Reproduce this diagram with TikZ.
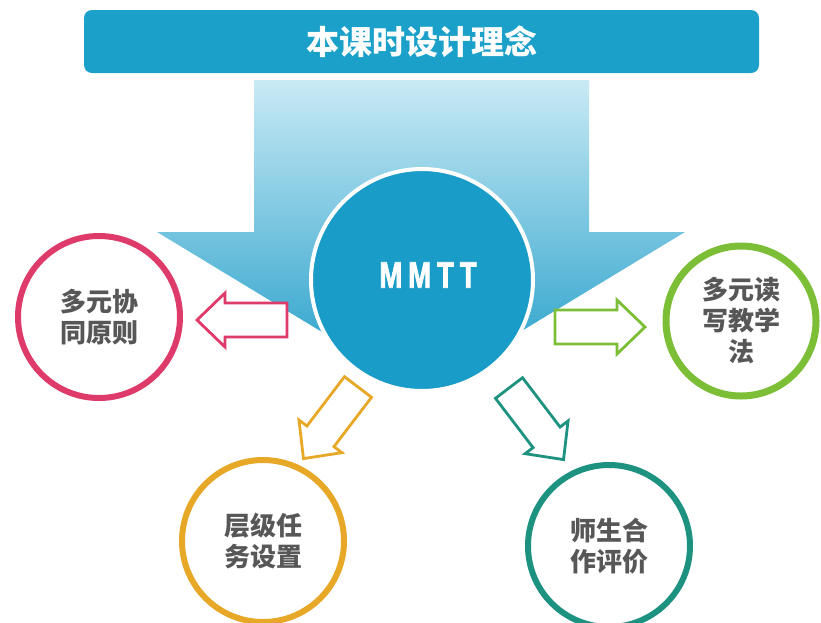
\documentclass[tikz,border=0pt]{standalone}
\usepackage{fontspec}
\newfontfamily\cjk{Noto Sans CJK SC}
\newfontfamily\latin{Liberation Sans}[BoldFeatures={FakeBold=2.5}]
\usetikzlibrary{shapes.geometric}

\definecolor{barblue}{HTML}{1AA0C9}
\definecolor{coreblue}{HTML}{1A9CC8}
\definecolor{arrowtop}{HTML}{C9EAF5}
\definecolor{arrowmid}{HTML}{3FABD5}
\definecolor{arrowbot}{HTML}{1C9BC7}
\definecolor{pinkc}{HTML}{DE3A6A}
\definecolor{greenc}{HTML}{7CBE36}
\definecolor{orangec}{HTML}{E6A826}
\definecolor{tealc}{HTML}{1D9280}
\definecolor{textgray}{HTML}{575757}

\tikzset{
  ring/.style={circle, draw=#1, line width=6pt, fill=white, minimum size=162pt,
    inner sep=0pt, align=center, text=textgray,
    font=\cjk\bfseries\fontsize{26}{31}\selectfont},
  hollow arrow/.pic={
    \draw[line width=2.8pt, fill=white, line join=miter]
      (0,17) -- (62,17) -- (62,27) -- (90,0) -- (62,-27) -- (62,-17) -- (0,-17) -- cycle;
  }
}

\begin{document}
\begin{tikzpicture}[x=1pt, y=-1pt]

    % Fix the page to the size of the slide
    \useasboundingbox (0,0) rectangle (821,622);

    % Title bar
    \node[fill=barblue, rounded corners=8pt, minimum width=675pt, minimum height=63pt,
          text=white, font=\cjk\bfseries\fontsize{33}{36}\selectfont] (title) at (421.5,41.5) {本课时设计理念};

    % Big shaded arrow pointing down to the core
    \shade[top color=arrowtop, middle color=arrowmid, bottom color=arrowbot]
      (254,80) -- (589,80) -- (589,232) -- (685,232) -- (421,392) -- (157,232) -- (254,232) -- cycle;

    % The core circle
    \node[circle, fill=coreblue, draw=white, line width=4pt, minimum size=222pt] (mmtt) at (422,280) {};
    \node[text=white, font=\latin\bfseries\fontsize{37}{37}\selectfont] (mmttlabel) at (428,275)
      {\scalebox{0.74}[1]{\addfontfeature{LetterSpace=22}MMTT}};

    % The four ideas round it
    \node[ring=pinkc] (coop) at (99,317) {多元协\\同原则};
    \node[ring=greenc, line width=7pt, minimum size=150pt] (rw) at (741,321) {多元读\\写教学\\法};
    \node[ring=orangec] (task) at (263,541) {层级任\\务设置};
    \node[ring=tealc] (eval) at (609,546) {师生合\\作评价};

    % Tails of the hollow arrows
    \coordinate (aL) at (287,320);
    \coordinate (aR) at (555,327);
    \coordinate (aT) at (358,387);
    \coordinate (aE) at (509,388);

    % Hollow arrows from the core to each idea
    \pic[color=pinkc, rotate=180] at (aL) {hollow arrow};
    \pic[color=greenc] at (aR) {hollow arrow};
    \pic[color=orangec, rotate=-127.3] at (aT) {hollow arrow};
    \pic[color=tealc, rotate=-52.7] at (aE) {hollow arrow};

\end{tikzpicture}
\end{document}
